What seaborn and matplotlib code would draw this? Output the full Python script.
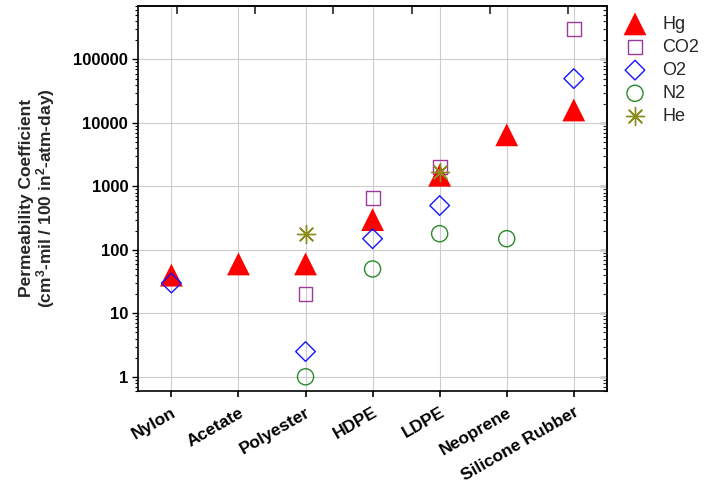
import numpy as np
import pandas as pd
import matplotlib
matplotlib.use("Agg")
import matplotlib.pyplot as plt
from matplotlib.ticker import FuncFormatter, LogLocator, NullFormatter
import seaborn as sns

sns.set_theme(style="ticks")
plt.rcParams["font.family"] = ["Liberation Sans", "DejaVu Sans"]
plt.rcParams["mathtext.fontset"] = "custom"
plt.rcParams["mathtext.rm"] = "Liberation Sans"
plt.rcParams["mathtext.default"] = "regular"

# data (permeability coefficients, log scale)
materials = ["Nylon", "Acetate", "Polyester", "HDPE", "LDPE", "Neoprene", "Silicone Rubber"]
gases = ["Hg", "CO2", "O2", "N2", "He"]
hg = [40, 60, 60, 300, 1500, 6500, 16000]
co2 = [None, None, 20, 650, 2000, None, 300000]
o2 = [30, None, 2.5, 150, 500, None, 50000]
n2 = [None, None, 1, 50, 180, 150, None]
he = [None, None, 180, None, 1700, None, None]

rows = []
for gas, vals in zip(gases, [hg, co2, o2, n2, he]):
    for i, v in enumerate(vals):
        if v is not None:
            rows.append({"Material": materials[i], "Pos": i, "Gas": gas, "Value": v})
df = pd.DataFrame(rows)

colors = {"Hg": "#ff0000", "CO2": "#9b3a9b", "O2": "#1515ff", "N2": "#2a8a2a", "He": "#8c8c1e"}
markers = {"Hg": "^", "CO2": "s", "O2": "D", "N2": "o", "He": (8, 2, 0)}
sizes = {"Hg": 270, "CO2": 100, "O2": 100, "N2": 135, "He": 170}

fig, ax = plt.subplots(figsize=(7.07, 4.88), dpi=100)
fig.subplots_adjust(left=0.195, right=0.859, top=0.988, bottom=0.199)

handles = {}
for gas in ["CO2", "Hg", "O2", "N2", "He"]:
    sub = df[df["Gas"] == gas]
    c = colors[gas]
    if gas == "Hg":
        sns.scatterplot(data=sub, x="Pos", y="Value", ax=ax, marker=markers[gas],
                        s=sizes[gas], color=c, edgecolor="none", zorder=3, legend=False)
    elif gas == "He":
        sns.scatterplot(data=sub, x="Pos", y="Value", ax=ax, marker=markers[gas],
                        s=sizes[gas], color=c, linewidth=1, zorder=3, legend=False)
    else:
        sns.scatterplot(data=sub, x="Pos", y="Value", ax=ax, marker=markers[gas],
                        s=sizes[gas], color=c, facecolor="none", edgecolor=c,
                        linewidth=1, zorder=3, legend=False)
    handles[gas] = ax.collections[-1]

ax.set_yscale("log")
ax.set_ylim(0.6, 7e5)
ax.set_xlim(-0.5, 6.5)
ax.set_yticks([1, 10, 100, 1000, 10000, 100000])
ax.yaxis.set_major_formatter(FuncFormatter(lambda v, _: f"{v:g}"))
ax.yaxis.set_minor_locator(LogLocator(base=10, subs=np.arange(2, 10)))
ax.yaxis.set_minor_formatter(NullFormatter())

ax.set_xticks(range(len(materials)))
ax.set_xticklabels(materials, rotation=30, ha="right", rotation_mode="anchor",
                   fontsize=12.5, fontweight="bold")
for lab in ax.get_yticklabels():
    lab.set_fontsize(12)
    lab.set_fontweight("bold")

ax.set_xlabel("")
ax.set_ylabel("Permeability Coefficient\n(cm$^3$-mil / 100 in$^2$-atm-day)",
              fontsize=12.5, fontweight="bold", linespacing=1.0)
ax.yaxis.set_label_coords(-0.172, 0.5)

ax.grid(True, which="major", color="#cccccc", linewidth=0.8)
ax.set_axisbelow(True)
for sp in ax.spines.values():
    sp.set_visible(True)
    sp.set_color("black")
    sp.set_linewidth(1.2)

ax.tick_params(axis="x", which="major", direction="out", length=4, width=1.2, pad=6, colors="black")
ax.tick_params(axis="y", which="major", direction="out", length=4, width=1, pad=3, colors="black")
ax.tick_params(axis="y", which="minor", direction="out", length=2.5, width=0.8, colors="black")

# right axis: inward ticks, no labels
secy = ax.secondary_yaxis("right")
secy.set_yticks([1, 10, 100, 1000, 10000, 100000])
secy.yaxis.set_minor_locator(LogLocator(base=10, subs=np.arange(2, 10)))
secy.tick_params(axis="y", which="major", direction="in", length=5, width=1, labelright=False)
secy.tick_params(axis="y", which="minor", direction="in", length=3, width=0.8, labelright=False)
secy.yaxis.set_minor_formatter(NullFormatter())
secy.spines["right"].set_linewidth(1.2)

# top axis: inward ticks at 6 evenly spaced positions, no labels
secx = ax.secondary_xaxis("top")
secx.set_xticks([-0.5 + (k + 0.5) * 7 / 6 for k in range(6)])
secx.tick_params(axis="x", direction="in", length=6, width=1.2, labeltop=False)
secx.spines["top"].set_linewidth(1.2)

ax.legend([handles[g] for g in gases], gases, loc="upper left",
          bbox_to_anchor=(0.879, 0.968), bbox_transform=fig.transFigure,
          frameon=False, fontsize=13, borderaxespad=0, borderpad=0,
          handlelength=1.5, handletextpad=0.75, labelspacing=0.34, scatterpoints=1)

plt.savefig("out.png", dpi=100)
plt.close()
